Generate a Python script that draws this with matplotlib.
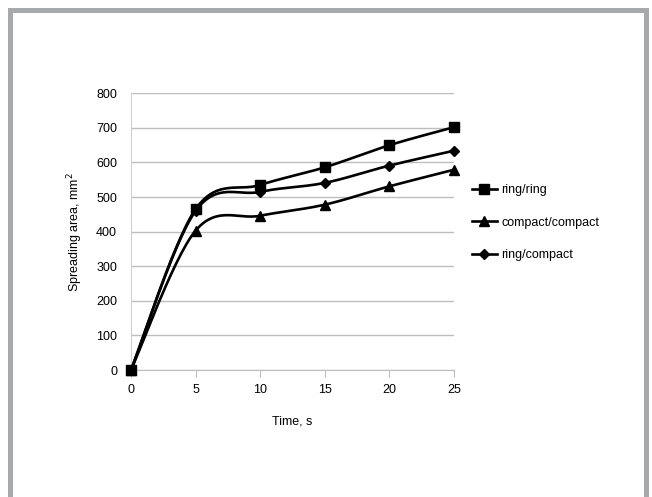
import numpy as np
import matplotlib
matplotlib.use("Agg")
import matplotlib.pyplot as plt
from matplotlib.patches import Rectangle

plt.rcParams["font.family"] = ["Liberation Sans", "DejaVu Sans"]

time_s = [0, 5, 10, 15, 20, 25]
ring_ring = [0, 465, 535, 586, 650, 702]
compact_compact = [0, 403, 446, 478, 531, 579]
ring_compact = [0, 460, 515, 541, 591, 634]
y_ticks = [0, 100, 200, 300, 400, 500, 600, 700, 800]


def smooth(x, y, n=30):
    # Catmull-Rom style bezier, like Excel "smoothed line"
    x = np.asarray(x, float)
    y = np.asarray(y, float)
    px = np.concatenate([[x[0]], x, [x[-1]]])
    py = np.concatenate([[y[0]], y, [y[-1]]])
    xs, ys = [], []
    t = np.linspace(0, 1, n)
    for i in range(1, len(px) - 2):
        p0 = np.array([px[i], py[i]])
        p3 = np.array([px[i + 1], py[i + 1]])
        p1 = p0 + (np.array([px[i + 1], py[i + 1]]) - np.array([px[i - 1], py[i - 1]])) / 6
        p2 = p3 - (np.array([px[i + 2], py[i + 2]]) - np.array([px[i], py[i]])) / 6
        b = ((1 - t) ** 3)[:, None] * p0 + (3 * (1 - t) ** 2 * t)[:, None] * p1 \
            + (3 * (1 - t) * t ** 2)[:, None] * p2 + (t ** 3)[:, None] * p3
        xs.extend(b[:, 0])
        ys.extend(b[:, 1])
    return xs, ys


fig = plt.figure(figsize=(6.52, 4.97), dpi=100)
ax = fig.add_axes([0.2009, 0.2555, 0.4954, 0.5568])

series = [
    ("ring/ring", ring_ring, "s", 7),
    ("compact/compact", compact_compact, "^", 7),
    ("ring/compact", ring_compact, "D", 5),
]
for label, vals, mk, ms in series:
    sx, sy = smooth(time_s, vals)
    ax.plot(sx, sy, color="black", lw=1.9, zorder=3, clip_on=False)
    ax.plot(time_s, vals, linestyle="none", marker=mk, markersize=ms, color="black",
            zorder=4, clip_on=False)
    ax.plot([], [], color="black", lw=1.9, marker=mk, markersize=ms, label=label)

ax.set_xlim(0, 25)
ax.set_ylim(0, 800)
ax.set_xticks(time_s)
ax.set_yticks(y_ticks)
ax.grid(axis="y", color="#bdbdbd", lw=1.0)
ax.set_axisbelow(True)
for s in ["top", "right"]:
    ax.spines[s].set_visible(False)
ax.spines["left"].set_color("#d0d0d0")
ax.spines["bottom"].set_color("#bdbdbd")
ax.tick_params(axis="y", length=0, labelsize=9, pad=10)
ax.tick_params(axis="x", length=5, color="#bdbdbd", labelsize=9, pad=5)
ax.set_xlabel("Time, s", fontsize=9, labelpad=14)
ax.set_ylabel("Spreading area, mm$^2$", fontsize=9, labelpad=8)

ax.legend(loc="upper left", bbox_to_anchor=(1.02, 0.712), frameon=False,
          fontsize=9, handlelength=2.0, handletextpad=0.35, labelspacing=1.65)

fig.patches.append(Rectangle((10 / 652, -0.1), 636 / 652, 1 - 10 / 497 + 0.1,
                             transform=fig.transFigure, fill=False,
                             edgecolor="#a8a9ab", lw=3.6, zorder=0))

fig.savefig("out.png", dpi=100)
